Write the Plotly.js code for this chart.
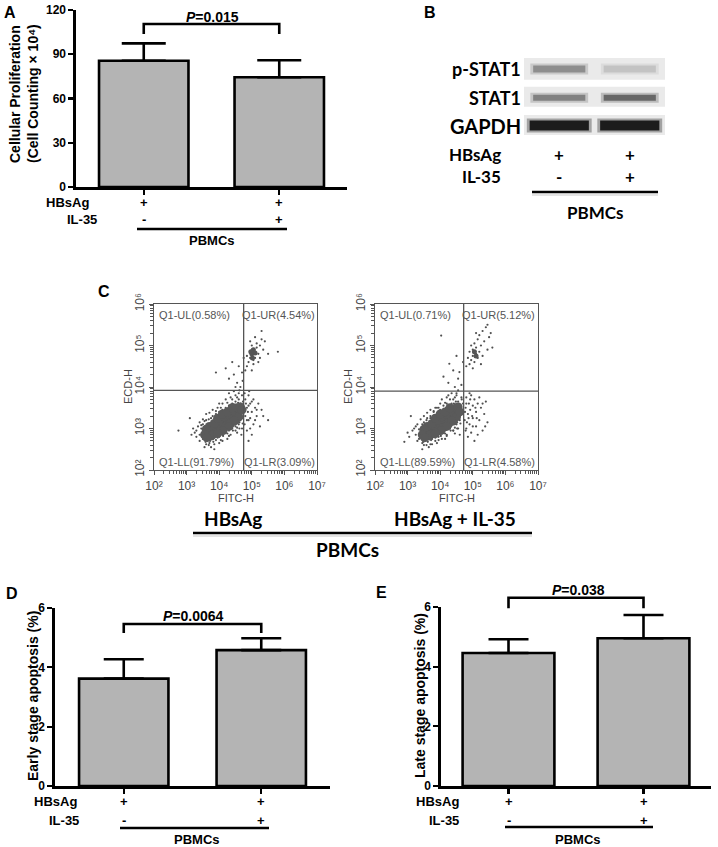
<!DOCTYPE html>
<html><head><meta charset="utf-8">
<script src="https://cdn.plot.ly/plotly-3.0.1.min.js"></script>
<style>html,body{margin:0;padding:0;background:#fff;}#chart{width:718px;height:847px;}</style>
</head><body><div id="chart"></div>
<script>
// ---------------- data ----------------
const treatments = ['HBsAg', 'HBsAg + IL-35'];
const hbsagSigns = ['+', '+'];
const il35Signs = ['-', '+'];
const cellLabel = 'PBMCs';

// Panel A: cellular proliferation (cell counting x 10^4)
const prolifMean = [85.6, 74.4];
const prolifErr = [11.8, 11.5];
const prolifP = '0.015';
const prolifBracket = [103.7, 110.5];
const prolifTicks = [0, 30, 60, 90, 120];

// Panel D: early stage apoptosis (%)
const earlyMean = [3.62, 4.58];
const earlyErr = [0.65, 0.40];
const earlyP = '0.0064';
const earlyBracket = [5.16, 5.46];

// Panel E: late stage apoptosis (%)
const lateMean = [4.46, 4.95];
const lateErr = [0.46, 0.78];
const lateP = '0.038';
const lateBracket = [5.96, 6.31];
const apopTicks = [0, 2, 4, 6];

// Panel B: western blot band darkness (0 = none, 1 = black), lanes = treatments
const blotProteins = ['p-STAT1', 'STAT1', 'GAPDH'];
const pSTAT1Density = [0.42, 0.17];
const STAT1Density = [0.48, 0.6];
const GAPDHDensity = [0.95, 0.95];

// Panel C: flow cytometry (log10 values)
const flowTickVals = [1e2, 1e3, 1e4, 1e5, 1e6, 1e7];
const flowTickText = ['10²', '10³', '10⁴', '10⁵', '10⁶', '10⁷'];
const quadHBsAg = ['Q1-UL(0.58%)', 'Q1-UR(4.54%)', 'Q1-LL(91.79%)', 'Q1-LR(3.09%)'];
const quadIL35 = ['Q1-UL(0.71%)', 'Q1-UR(5.12%)', 'Q1-LL(89.59%)', 'Q1-LR(4.58%)'];
const gateHBsAg = [4.75, 3.92];   // [log10 FITC-H, log10 ECD-H]
const gateIL35 = [4.72, 3.90];

const coreHBsAg = [[3.65,2.88],[3.75,2.95],[3.85,3.0],[3.95,3.05],[4.05,3.1],[4.15,3.15],[4.25,3.2],[4.35,3.25],[4.45,3.3],[4.55,3.35],[4.62,3.42],[3.75,2.82],[3.9,2.9],[4.05,2.98],[4.2,3.05],[4.35,3.12],[4.5,3.2],[3.7,3.05],[3.85,3.12],[4.0,3.2],[4.15,3.28],[4.3,3.35],[4.45,3.42],[4.55,3.5],
 [3.6,2.98],[3.8,2.85],[3.95,3.25],[4.1,3.35],[4.25,3.4],[4.4,3.5],[4.6,3.28],[4.45,3.18],[4.3,3.05],[4.12,2.95],[3.95,2.88],[4.65,3.52],[3.55,2.85],[3.62,2.78],[4.7,3.45]];
const urCoreHBsAg = [[5.0,4.8],[5.05,4.9],[5.1,4.82],[5.02,4.7],[4.97,4.85]];
const eventsHBsAg = [[2.75,2.95],[3.1,3.25],[3.2,3.0],[3.3,2.8],[3.3,2.95],[3.4,2.85],[3.4,3.15],[3.45,3.0],[3.5,2.75],[3.5,3.1],[3.55,2.9],[3.6,2.7],[3.6,3.2],[3.65,3.1],[3.7,2.65],[3.75,3.25],[3.8,2.75],[3.85,2.5],[3.9,2.72],[4.0,2.8],[4.1,2.7],[4.1,2.85],[4.2,2.9],[4.3,2.95],[4.35,2.85],[4.4,3.0],[4.5,3.05],[4.6,3.1],[4.65,3.2],[4.7,3.0],
 [3.9,3.35],[4.0,3.4],[4.0,3.6],[4.1,3.45],[4.2,3.5],[4.2,3.7],[4.3,3.55],[4.35,3.75],[4.4,3.6],[4.5,3.65],[4.5,3.8],[4.6,3.7],[4.65,3.6],[4.7,3.8],[4.72,3.5],[4.68,3.35],
 [3.45,3.08],[3.55,3.18],[3.6,2.62],[3.68,3.22],[3.72,2.7],[3.8,3.3],[3.82,2.68],[3.88,2.8],[3.92,3.28],[3.95,2.78],[4.02,3.32],[4.05,2.86],[4.08,3.38],[4.12,2.82],[4.15,3.42],[4.18,2.92],[4.22,3.45],[4.25,2.88],[4.28,3.5],[4.32,3.02],[4.38,3.52],[4.42,2.95],[4.45,3.58],[4.48,3.1],[4.52,3.55],[4.55,3.02],[4.58,3.62],[4.62,3.15],[4.65,3.5],[4.7,3.25],[4.73,3.4],[4.73,3.65],[4.6,3.85],[4.45,3.9],[4.3,3.85],[4.1,3.6],[3.95,3.5],[3.35,3.05],[3.25,2.9],[3.15,2.85],[3.55,2.55],[3.75,2.55],[4.0,2.65],[4.25,2.75],[4.55,2.9],[4.68,2.85],[3.4,2.7],[3.5,2.95],[3.6,3.35],[3.8,3.45],
 [3.48,2.82],[3.58,2.68],[3.68,2.6],[3.85,2.62],[4.05,2.72],[4.3,2.82],[4.5,2.95],[4.62,3.0],[4.72,3.12],[3.5,3.22],[3.7,3.38],[3.9,3.42],[4.05,3.5],[4.25,3.62],[4.4,3.7],[4.55,3.75],[4.62,3.92],
 [4.78,3.1],[4.8,3.3],[4.8,3.7],[4.85,2.95],[4.85,3.5],[4.88,3.4],[4.9,3.2],[4.9,3.8],[4.95,3.6],[5.0,2.85],[5.0,3.4],[5.05,3.1],[5.05,3.7],[5.1,3.5],[5.15,3.3],[5.2,3.6],[5.25,3.05],[5.3,3.45],[4.9,2.7],[5.5,3.2],[4.82,3.6],[4.95,3.25],
 [4.8,3.45],[4.85,3.2],[4.9,3.55],[4.95,3.0],[5.0,3.65],[5.1,3.2],[5.15,3.45],[5.35,3.3],[4.78,3.85],[4.92,3.9],
 [3.9,4.35],[4.2,4.45],[4.3,4.2],[4.4,4.6],[4.45,4.3],[4.5,4.0],[4.55,4.1],[4.6,4.5],[4.65,4.0],[4.7,4.35],[4.75,4.7],[4.72,4.15],
 [4.8,4.4],[4.85,4.5],[4.85,4.75],[4.9,4.6],[4.95,4.7],[4.95,4.85],[4.95,5.1],[5.0,4.4],[5.0,4.75],[5.0,4.9],[5.0,5.0],[5.05,4.55],[5.05,4.65],[5.05,4.8],[5.1,4.7],[5.1,4.85],[5.1,5.2],[5.15,4.95],[5.15,5.05],[5.2,4.6],[5.2,4.8],[5.25,4.7],[5.25,5.0],[5.3,5.15],[5.3,5.35],[5.35,4.9],[5.4,5.1],[5.5,4.8],[5.8,4.85]];

const coreIL35 = [[3.55,2.9],[3.65,2.95],[3.75,3.0],[3.85,3.05],[3.95,3.1],[4.05,3.15],[4.15,3.2],[4.25,3.25],[4.35,3.3],[4.45,3.35],[4.55,3.42],[3.65,2.82],[3.8,2.88],[3.95,2.95],[4.1,3.02],[4.25,3.1],[4.4,3.18],[3.6,3.05],[3.75,3.12],[3.9,3.2],[4.05,3.28],[4.2,3.35],[4.35,3.42],[4.5,3.5],
 [3.5,2.98],[3.7,2.85],[3.85,3.25],[4.0,3.35],[4.15,3.4],[4.3,3.5],[4.5,3.28],[4.35,3.18],[4.2,3.05],[4.02,2.95],[3.85,2.88],[4.55,3.52],[3.45,2.85],[3.52,2.78],[4.6,3.4]];
const urCoreIL35 = [[5.05,4.85],[5.1,4.75]];
const eventsIL35 = [[2.9,2.68],[3.2,3.0],[3.25,2.85],[3.3,3.1],[3.35,2.75],[3.4,2.95],[3.45,2.65],[3.5,3.15],[3.55,2.7],[3.6,3.25],[3.7,2.62],[3.75,2.75],[3.85,2.7],[3.95,2.8],[4.05,2.75],[4.1,2.9],[4.2,2.85],[4.3,3.0],[4.4,2.95],[4.5,3.1],[4.55,3.0],[4.6,3.2],[3.1,3.3],[3.0,2.9],[3.7,3.3],
 [3.8,3.4],[3.9,3.5],[4.0,3.45],[4.05,3.7],[4.1,3.55],[4.2,3.6],[4.25,3.8],[4.3,3.5],[4.4,3.7],[4.45,3.55],[4.5,3.85],[4.55,3.65],[4.6,3.5],[4.65,3.75],[4.68,3.4],[4.7,3.6],
 [3.35,2.98],[3.45,3.1],[3.5,2.6],[3.58,3.2],[3.62,2.68],[3.7,3.25],[3.72,2.72],[3.78,2.82],[3.82,3.3],[3.85,2.78],[3.92,3.35],[3.95,2.86],[3.98,3.38],[4.02,2.82],[4.05,3.42],[4.08,2.92],[4.12,3.45],[4.15,2.88],[4.18,3.5],[4.22,3.02],[4.28,3.55],[4.32,2.95],[4.35,3.6],[4.38,3.1],[4.42,3.6],[4.45,3.02],[4.48,3.65],[4.52,3.15],[4.55,3.55],[4.6,3.3],[4.63,3.45],[4.66,3.7],[4.5,3.8],[4.35,3.85],[4.2,3.75],[4.0,3.6],[3.85,3.5],[3.25,3.05],[3.15,2.95],[3.05,2.8],[3.45,2.5],[3.65,2.55],[3.9,2.65],[4.15,2.75],[4.45,2.88],[4.6,2.85],[3.3,2.7],[3.4,2.88],[3.5,3.3],[3.7,3.45],
 [3.38,2.82],[3.48,2.68],[3.58,2.6],[3.75,2.62],[3.95,2.72],[4.2,2.82],[4.4,2.95],[4.52,3.0],[4.62,3.12],[3.4,3.22],[3.6,3.38],[3.8,3.42],[3.95,3.5],[4.15,3.62],[4.3,3.7],[4.45,3.75],[4.55,3.92],
 [4.75,3.2],[4.78,3.5],[4.8,3.0],[4.8,3.75],[4.85,3.35],[4.88,3.6],[4.9,3.1],[4.92,3.45],[4.95,2.9],[4.95,3.8],[5.0,3.25],[5.0,3.55],[5.05,3.7],[5.1,3.05],[5.1,3.4],[5.15,3.6],[5.2,3.2],[5.25,3.5],[5.3,2.95],[5.35,3.35],[5.4,3.65],[5.45,3.15],[4.85,2.8],[5.05,2.7],[5.2,3.75],[4.82,3.15],[4.98,3.3],
 [4.76,3.4],[4.8,3.6],[4.87,3.25],[4.92,3.7],[5.0,3.05],[5.08,3.5],[5.12,3.25],[5.3,3.6],[5.38,3.05],[4.9,3.85],[5.15,2.85],[4.78,2.95],
 [4.03,5.24],[4.1,4.25],[4.25,4.1],[4.28,4.56],[4.4,4.4],[4.45,4.0],[4.55,4.2],[4.59,4.36],[4.65,4.05],[4.7,4.6],[4.5,4.75],
 [4.8,4.5],[4.85,4.7],[4.9,4.55],[4.9,4.85],[4.95,4.65],[4.95,5.0],[5.0,4.75],[5.0,4.9],[5.05,4.6],[5.05,5.05],[5.1,4.8],[5.1,4.95],[5.15,4.7],[5.15,5.15],[5.2,4.85],[5.2,5.25],[5.25,5.0],[5.3,4.75],[5.3,5.35],[5.35,5.1],[5.4,5.44],[5.45,4.9],[5.5,5.2],[5.55,5.3],[5.6,4.95],[5.0,4.45],[5.25,4.55],[5.1,5.3],[5.45,5.5]];

// ---------------- layout helpers ----------------
const W = 718, H = 847;
const px = v => v / W;
const py = v => 1 - v / H;
const ARIAL = 'Liberation Sans, Arial, sans-serif';
const CAL = 'Lato, Open Sans, sans-serif';
const idx = treatments.map((_, i) => i);
const pow10 = v => Math.pow(10, v);

const traces = [];
const annotations = [];
const shapes = [];

function ann(x, y, text, o) {
  o = o || {};
  annotations.push({
    xref: o.xref || 'paper', yref: 'paper', x: o.xref ? x : px(x), y: py(y), text: text, showarrow: false,
    xanchor: o.xanchor || 'center', yanchor: 'middle', textangle: o.angle || 0, borderpad: 0,
    font: {family: o.family || ARIAL, size: o.size || 13, color: o.color || '#000',
           weight: o.normal ? 'normal' : 'bold'}
  });
}

function barPanel(xa, ya, bxa, bya, mean, err, bracket, capW, barW) {
  traces.push({
    type: 'bar', x: idx, y: mean, width: barW, xaxis: xa, yaxis: ya,
    marker: {color: '#b4b4b4', line: {color: '#000', width: 2.6}},
    error_y: {type: 'data', symmetric: false, array: err, arrayminus: err.map(() => 0),
              color: '#000', thickness: 2.6, width: capW},
    hoverinfo: 'skip'
  });
  traces.push({
    type: 'scatter', mode: 'lines', xaxis: bxa, yaxis: bya, cliponaxis: false,
    x: [idx[0], idx[0], idx[1], idx[1]], y: [bracket[0], bracket[1], bracket[1], bracket[0]],
    line: {color: '#000', width: 2.6}, hoverinfo: 'skip'
  });
}
// bracket overlay axes share the bar scale but extend higher so brackets are not clipped
barPanel('x', 'y', 'x8', 'y8', prolifMean, prolifErr, prolifBracket, 22, 0.66);
barPanel('x6', 'y6', 'x9', 'y9', earlyMean, earlyErr, earlyBracket, 20, 0.65);
barPanel('x7', 'y7', 'x10', 'y10', lateMean, lateErr, lateBracket, 20, 0.68);

function barAxes(xd, y0px, y1px, range, ticks) {
  const x = {
    domain: xd, range: [-0.5, 1.5], showline: true, linecolor: '#000', linewidth: 2.6,
    ticks: 'outside', ticklen: 5, tickwidth: 2.2, tickcolor: '#000', tickvals: idx,
    showticklabels: false, showgrid: false, zeroline: false, fixedrange: true
  };
  const y = {
    domain: [py(y0px), py(y1px)], range: range, tickvals: ticks, showline: true, linecolor: '#000', linewidth: 2.6,
    ticks: 'outside', ticklen: 5, tickwidth: 2.2, tickcolor: '#000',
    tickfont: {family: ARIAL, size: 12, color: '#000', weight: 'bold'},
    showgrid: false, zeroline: false, fixedrange: true
  };
  const topPx = Math.max(0, y1px - 30);
  const ext = range[1] * (y0px - topPx) / (y0px - y1px);
  const bx = {domain: xd, range: [-0.5, 1.5], visible: false, fixedrange: true};
  const by = {domain: [py(y0px), py(topPx)], range: [0, ext], visible: false, fixedrange: true};
  return [x, y, bx, by];
}
const [xA, yA, bxA, byA] = barAxes([px(76), px(347)], 187, 10, [0, 120], prolifTicks);
const [xD, yD, bxD, byD] = barAxes([px(55), px(330)], 786, 608, [0, 6], apopTicks);
const [xE, yE, bxE, byE] = barAxes([px(441), px(711)], 786, 607, [0, 6], apopTicks);
xA.anchor = 'y'; yA.anchor = 'x'; bxA.anchor = 'y8'; byA.anchor = 'x8';
xD.anchor = 'y6'; yD.anchor = 'x6'; bxD.anchor = 'y9'; byD.anchor = 'x9';
xE.anchor = 'y7'; yE.anchor = 'x7'; bxE.anchor = 'y10'; byE.anchor = 'x10';

// row labels and PBMCs underline for bar panels
function rowLabels(xa, hbX, ilX, yHb, yIl, lineX0, lineX1, lineY, pbX, pbY, fam, size, pbSize) {
  ann(hbX, yHb, 'HBsAg', {family: fam, size: size});
  ann(ilX, yIl, 'IL-35', {family: fam, size: size});
  idx.forEach(i => {
    ann(i, yHb, hbsagSigns[i], {xref: xa, family: fam, size: size});
    ann(i, yIl, il35Signs[i], {xref: xa, family: fam, size: size});
  });
  shapes.push({type: 'line', xref: 'paper', yref: 'paper', x0: px(lineX0), x1: px(lineX1), y0: py(lineY), y1: py(lineY),
    line: {color: '#000', width: 2.6}});
  ann(pbX, pbY, cellLabel, {family: fam, size: pbSize});
}
rowLabels('x', 67, 82, 202, 220, 137, 287, 229, 212, 240, ARIAL, 13, 13);
rowLabels('x6', 55, 64, 801, 820, 120, 269, 828, 197, 839, ARIAL, 13, 13);
rowLabels('x7', 437, 444, 801, 820, 505, 653, 827, 578, 839, ARIAL, 13, 13);

// P values
ann(212, 17, '<i>P</i>=' + prolifP, {size: 14});
ann(193, 616, '<i>P</i>=' + earlyP, {size: 14});
ann(578, 590, '<i>P</i>=' + lateP, {size: 14});

// y titles for bar panels
ann(15, 94, 'Cellular Proliferation', {angle: -90, size: 14});
ann(33, 94, '(Cell Counting × 10⁴)', {angle: -90, size: 14});
ann(33, 696, 'Early stage apoptosis (%)', {angle: -90, size: 14});
ann(420, 696, 'Late stage apoptosis (%)', {angle: -90, size: 14});

// panel letters
[['A', 10, 13], ['B', 430, 13], ['C', 104, 291], ['D', 12, 593], ['E', 381, 592]].forEach(([t, x, y]) => {
  ann(x, y, t, {size: 16});
});

// ---------------- Panel B: western blot ----------------
const blotRowPos = [2.57, 1.45, 0.37];        // row centres (axis units)
const blotStrip = [[2.15, 3.0], [1.1, 1.88], [0.0, 0.78]];
const blotThick = [7, 6, 10];
const blotLabelY = [69, 98, 126];
const blotLabelSize = [18, 18, 20];
const densities = [pSTAT1Density, STAT1Density, GAPDHDensity];
blotProteins.forEach((prot, r) => {
  shapes.push({type: 'rect', xref: 'x3', yref: 'y3', x0: -0.5, x1: 1.5, y0: blotStrip[r][0], y1: blotStrip[r][1],
    fillcolor: '#eaeaea', line: {width: 0}, layer: 'below'});
  idx.forEach(i => {
    const d = densities[r][i];
    const g = Math.round(232 - d * 215);
    const col = 'rgb(' + g + ',' + g + ',' + g + ')';
    const half = r === 2 ? 0.46 : 0.41;
    traces.push({type: 'scatter', mode: 'lines', xaxis: 'x3', yaxis: 'y3', hoverinfo: 'skip',
      x: [i - half, i + half], y: [blotRowPos[r], blotRowPos[r]],
      line: {color: col, width: blotThick[r] + 4}, opacity: 0.35});
    traces.push({type: 'scatter', mode: 'lines', xaxis: 'x3', yaxis: 'y3', hoverinfo: 'skip',
      x: [i - half + 0.04, i + half - 0.04], y: [blotRowPos[r], blotRowPos[r]],
      line: {color: col, width: blotThick[r]}});
  });
  ann(522, blotLabelY[r], prot, {xanchor: 'right', family: CAL, size: blotLabelSize[r]});
});
const xB = {domain: [px(524), px(665)], range: [-0.5, 1.5], visible: false, fixedrange: true, anchor: 'y3'};
const yB = {domain: [py(135), py(58)], range: [0, 3], visible: false, fixedrange: true, anchor: 'x3'};
// B row labels
ann(502, 154, 'HBsAg', {xanchor: 'right', family: CAL, size: 17});
ann(502, 177, 'IL-35', {xanchor: 'right', family: CAL, size: 17});
idx.forEach(i => {
  ann(i, 154, hbsagSigns[i], {xref: 'x3', family: CAL, size: 17});
  ann(i, 177, il35Signs[i], {xref: 'x3', family: CAL, size: 17});
});
shapes.push({type: 'line', xref: 'paper', yref: 'paper', x0: px(532), x1: px(658), y0: py(192), y1: py(192), line: {color: '#000', width: 2.6}});
shapes.push({type: 'line', xref: 'paper', yref: 'paper', x0: px(532), x1: px(658), y0: py(195), y1: py(195), line: {color: '#e4e4e4', width: 2}});
ann(595, 212, cellLabel, {family: CAL, size: 17});

// ---------------- Panel C: flow cytometry ----------------
function flowPanel(xa, ya, core, urCore, events, gate, quad, quadPos, ecdX, fitcX) {
  traces.push({type: 'scatter', mode: 'markers', xaxis: xa, yaxis: ya, hoverinfo: 'skip',
    x: events.map(p => pow10(p[0])), y: events.map(p => pow10(p[1])),
    marker: {size: 2.2, color: '#505050'}});
  traces.push({type: 'scatter', mode: 'markers', xaxis: xa, yaxis: ya, hoverinfo: 'skip',
    x: urCore.map(p => pow10(p[0])), y: urCore.map(p => pow10(p[1])),
    marker: {size: 5, color: '#555'}});
  traces.push({type: 'scatter', mode: 'markers', xaxis: xa, yaxis: ya, hoverinfo: 'skip',
    x: core.map(p => pow10(p[0])), y: core.map(p => pow10(p[1])),
    marker: {size: 9, color: '#5a5a5a'}});
  traces.push({type: 'scatter', mode: 'lines', xaxis: xa, yaxis: ya, hoverinfo: 'skip',
    x: [pow10(gate[0]), pow10(gate[0])], y: [flowTickVals[0], flowTickVals[4]], line: {color: '#555', width: 1.3}});
  traces.push({type: 'scatter', mode: 'lines', xaxis: xa, yaxis: ya, hoverinfo: 'skip',
    x: [flowTickVals[0], flowTickVals[5]], y: [pow10(gate[1]), pow10(gate[1])], line: {color: '#555', width: 1.3}});
  quad.forEach((q, k) => {
    ann(quadPos[k][0], quadPos[k][1], q, {xanchor: 'left', size: 11, color: '#555', normal: true});
  });
  ann(ecdX, 387, 'ECD-H', {angle: -90, size: 11, color: '#444', normal: true});
  ann(fitcX, 498, 'FITC-H', {size: 11, color: '#444', normal: true});
}
flowPanel('x4', 'y4', coreHBsAg, urCoreHBsAg, eventsHBsAg, gateHBsAg, quadHBsAg,
  [[158, 315], [241, 315], [158, 462], [243, 462]], 128, 236);
flowPanel('x5', 'y5', coreIL35, urCoreIL35, eventsIL35, gateIL35, quadIL35,
  [[379, 315], [461, 315], [379, 462], [463, 462]], 348, 457);

function flowAxes(xd, ya, xa) {
  const common = {showline: true, mirror: true, linecolor: '#555', linewidth: 1.2, ticks: 'outside', ticklen: 4,
    tickcolor: '#555', tickwidth: 1, showgrid: false, zeroline: false, fixedrange: true, type: 'log',
    tickmode: 'array', tickfont: {family: ARIAL, size: 12, color: '#444'},
    minor: {tickmode: 'linear', dtick: 'D1', ticks: 'outside', ticklen: 2.5, tickcolor: '#555', showgrid: false}};
  const x = Object.assign({}, common, {domain: xd, range: [2, 7], tickvals: flowTickVals, ticktext: flowTickText, anchor: ya});
  const y = Object.assign({}, common, {domain: [py(470), py(304)], range: [2, 6], tickvals: flowTickVals.slice(0, 5),
    ticktext: flowTickText.slice(0, 5), tickangle: -90, anchor: xa});
  return [x, y];
}
const [xC1, yC1] = flowAxes([px(154), px(317)], 'y4', 'x4');
const [xC2, yC2] = flowAxes([px(375), px(538)], 'y5', 'x5');

// C group labels
ann(233, 518, treatments[0], {family: CAL, size: 19});
ann(455, 518, treatments[1], {family: CAL, size: 19});
shapes.push({type: 'line', xref: 'paper', yref: 'paper', x0: px(193), x1: px(532), y0: py(533), y1: py(533), line: {color: '#000', width: 2.6}});
shapes.push({type: 'line', xref: 'paper', yref: 'paper', x0: px(193), x1: px(532), y0: py(536), y1: py(536), line: {color: '#e4e4e4', width: 2}});
ann(347, 549, cellLabel, {family: CAL, size: 19});

const layout = {
  width: W, height: H, autosize: false, margin: {l: 0, r: 0, t: 0, b: 0, pad: 0},
  paper_bgcolor: '#fff', plot_bgcolor: 'rgba(0,0,0,0)', showlegend: false,
  font: {family: ARIAL, color: '#000'},
  xaxis: xA, yaxis: yA,
  xaxis3: xB, yaxis3: yB,
  xaxis4: xC1, yaxis4: yC1,
  xaxis5: xC2, yaxis5: yC2,
  xaxis6: xD, yaxis6: yD,
  xaxis7: xE, yaxis7: yE,
  xaxis8: bxA, yaxis8: byA,
  xaxis9: bxD, yaxis9: byD,
  xaxis10: bxE, yaxis10: byE,
  annotations: annotations, shapes: shapes
};
Plotly.newPlot('chart', traces, layout, {displayModeBar: false, staticPlot: true});
</script>
</body></html>
